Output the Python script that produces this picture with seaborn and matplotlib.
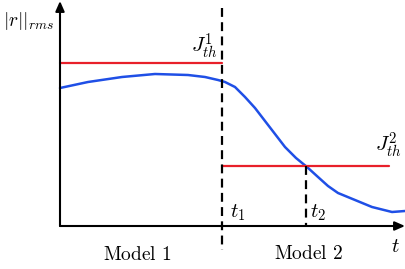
import matplotlib
matplotlib.use("Agg")
import matplotlib.pyplot as plt
import seaborn as sns
import pandas as pd

sns.set_theme(style="white")
plt.rcParams["mathtext.fontset"] = "cm"
plt.rcParams["font.family"] = ["DejaVu Serif"]
plt.rcParams["text.color"] = "black"

# ---- data (arbitrary units) ----
blue_t = [0, 28, 62, 95, 128, 145, 158, 165, 175, 185, 195, 205, 215, 225, 236, 247, 258, 268, 278, 295, 312, 332, 345]
blue_r = [138, 144, 149, 152, 151, 149, 146, 144, 139, 129, 118, 105, 92, 79, 68, 59, 49, 40, 33, 26, 19, 14, 15]
t1 = 162
t2 = 246
thr1 = 163
thr2 = 60
t_end_thr2 = 329
labels_model = ["$\\mathrm{Model\\ 1}$", "$\\mathrm{Model\\ 2}$"]

fig = plt.figure(figsize=(4.06, 2.69), dpi=100)
ax = fig.add_axes([0, 0, 1, 1])
ax.set_xlim(-60, 346)
ax.set_ylim(-43, 226)
ax.axis("off")

blue = "#1f4fe6"
red = "#e8202a"

df = pd.DataFrame({"t": blue_t, "r": blue_r})
sns.lineplot(data=df, x="t", y="r", ax=ax, color=blue, lw=1.8, sort=False,
             solid_joinstyle="round", solid_capstyle="round")

th1 = pd.DataFrame({"t": [0, t1], "r": [thr1, thr1]})
th2 = pd.DataFrame({"t": [t1, t_end_thr2], "r": [thr2, thr2]})
sns.lineplot(data=th1, x="t", y="r", ax=ax, color=red, lw=1.6)
sns.lineplot(data=th2, x="t", y="r", ax=ax, color=red, lw=1.6)

# dashed vertical lines
ax.plot([t1, t1], [218, -24], color="black", lw=1.6, dashes=(4, 2.4))
ax.plot([t2, t2], [thr2, -1], color="black", lw=1.6, dashes=(4, 2.4))

# axes with arrows
ax.annotate("", xy=(345, 0), xytext=(0, 0),
            arrowprops=dict(arrowstyle="-|>,head_length=0.5,head_width=0.22", color="black", lw=1.5, shrinkA=0, shrinkB=0))
ax.annotate("", xy=(0, 225), xytext=(0, 0),
            arrowprops=dict(arrowstyle="-|>,head_length=0.5,head_width=0.22", color="black", lw=1.5, shrinkA=0, shrinkB=0))

fs = 14
ax.text(-31, 205, r"$|r||_{rms}$", fontsize=fs, ha="center", va="center", color="black")
ax.text(144, 180, r"$J^1_{th}$", fontsize=fs + 1, ha="center", va="center", color="black")
ax.text(328, 81, r"$J^2_{th}$", fontsize=fs + 1, ha="center", va="center", color="black")
ax.text(178, 13, r"$t_1$", fontsize=fs + 1, ha="center", va="center", color="black")
ax.text(258, 13, r"$t_2$", fontsize=fs + 1, ha="center", va="center", color="black")
ax.text(335, -21, r"$t$", fontsize=fs + 1, ha="center", va="center", color="black")
ax.text(77, -29, labels_model[0], fontsize=fs, ha="center", va="center", color="black")
ax.text(248, -28, labels_model[1], fontsize=fs, ha="center", va="center", color="black")

fig.savefig("out.png", dpi=100)
